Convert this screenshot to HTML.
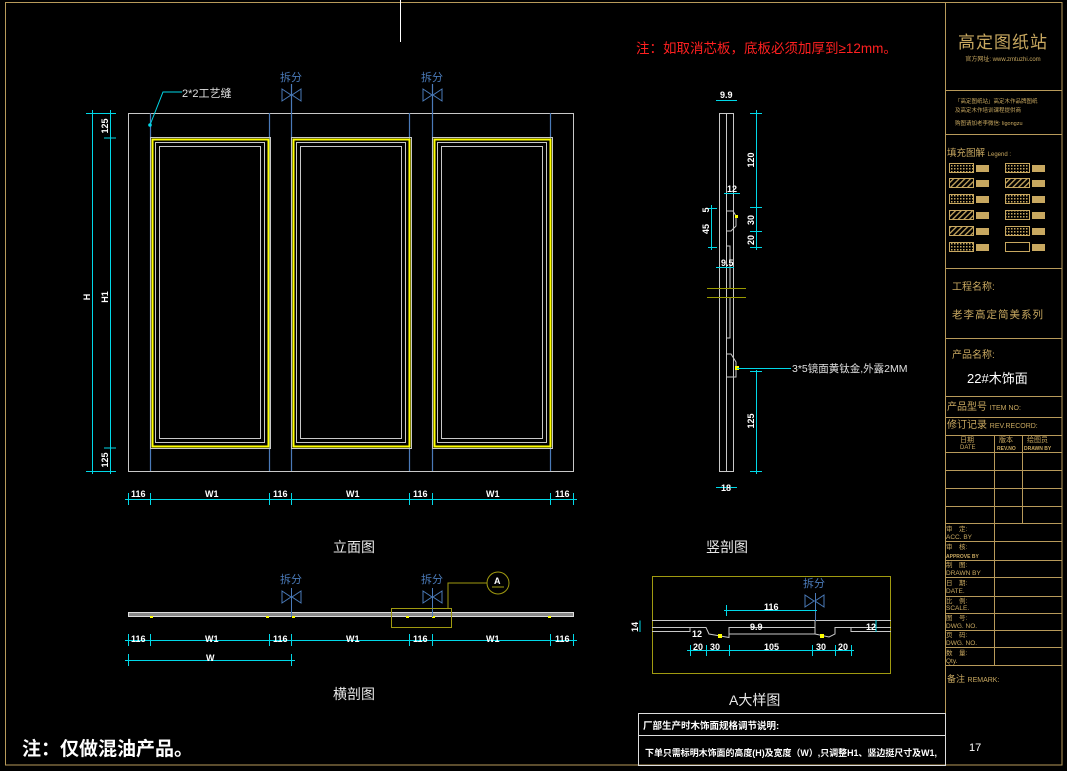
<!DOCTYPE html>
<html><head><meta charset="utf-8"><style>
html,body{margin:0;padding:0;background:#000;}
svg{display:block;}
text{font-family:"Liberation Sans","Noto Sans CJK SC",sans-serif;}
</style></head><body>
<svg width="1067" height="771" viewBox="0 0 1067 771" xmlns="http://www.w3.org/2000/svg">
<rect width="1067" height="771" fill="#000"/>
<rect x="5.5" y="2.5" width="1056.5" height="762.5" fill="none" stroke="#b89a5a" stroke-width="1"/>
<line x1="945.5" y1="2.5" x2="945.5" y2="765" stroke="#b89a5a"/>
<line x1="400.5" y1="0" x2="400.5" y2="42" stroke="#fff"/>
<text x="636" y="53" fill="#ff2020" font-size="13.5">注：如取消芯板，底板必须加厚到≥12mm。</text>

<g fill="none" stroke="#c8c8c8" stroke-width="1">
<rect x="128.5" y="113.5" width="445" height="358"/>
</g>
<g stroke="#4a7ab8" stroke-width="1.2">
<line x1="150.5" y1="113" x2="150.5" y2="471"/><line x1="269.5" y1="113" x2="269.5" y2="471"/>
<line x1="291.5" y1="84" x2="291.5" y2="471"/><line x1="409.5" y1="113" x2="409.5" y2="471"/>
<line x1="432.5" y1="84" x2="432.5" y2="471"/><line x1="550.5" y1="113" x2="550.5" y2="471"/>
</g>
<g id="pan">
<rect x="150.5" y="137.5" width="120" height="311" fill="none" stroke="#c8c8c8"/>
<rect x="152.5" y="139.5" width="116" height="307" fill="none" stroke="#ffff00" stroke-width="2"/>
<rect x="155.5" y="142.5" width="109" height="300" fill="none" stroke="#c8c8c8"/>
<rect x="159.5" y="146.5" width="101" height="292" fill="none" stroke="#c8c8c8"/>
</g>
<use href="#pan" x="141"/><use href="#pan" x="282"/>
<polyline points="150,125 163,92 182,92" fill="none" stroke="#00d8e8"/>
<circle cx="150" cy="125" r="1.8" fill="#00d8e8"/>
<text x="182" y="97" fill="#e0e0e0" font-size="11">2*2工艺缝</text>
<g id="spl" fill="none" stroke="#4a7ab8">
<text x="280" y="81" fill="#4a7ab8" stroke="none" font-size="11">拆分</text>
<polygon points="282,89 291,95 282,101"/><polygon points="301,89 292,95 301,101"/>
</g>
<use href="#spl" x="141"/>
<g stroke="#00d8e8" stroke-width="1">
<line x1="92.5" y1="110" x2="92.5" y2="474"/>
<line x1="110.5" y1="110" x2="110.5" y2="474"/>
<line x1="86" y1="113.5" x2="116" y2="113.5"/><line x1="104" y1="138" x2="116" y2="138"/>
<line x1="104" y1="448" x2="116" y2="448"/><line x1="86" y1="471.5" x2="116" y2="471.5"/>
<line x1="125" y1="499.5" x2="577" y2="499.5"/>
<line x1="128.5" y1="493" x2="128.5" y2="505"/>
<line x1="150.5" y1="493" x2="150.5" y2="505"/><line x1="269.5" y1="493" x2="269.5" y2="505"/>
<line x1="291.5" y1="493" x2="291.5" y2="505"/><line x1="409.5" y1="493" x2="409.5" y2="505"/>
<line x1="432.5" y1="493" x2="432.5" y2="505"/><line x1="550.5" y1="493" x2="550.5" y2="505"/>
<line x1="573.5" y1="493" x2="573.5" y2="505"/>
</g>
<g fill="#fff" font-size="9" font-weight="bold">
<text x="131" y="497">116</text><text x="205" y="497">W1</text><text x="273" y="497">116</text>
<text x="346" y="497">W1</text><text x="413" y="497">116</text><text x="486" y="497">W1</text><text x="555" y="497">116</text>
<text transform="translate(90,297) rotate(-90)" text-anchor="middle">H</text>
<text transform="translate(108,297) rotate(-90)" text-anchor="middle">H1</text>
<text transform="translate(108,126) rotate(-90)" text-anchor="middle">125</text>
<text transform="translate(108,460) rotate(-90)" text-anchor="middle">125</text>
</g>
<text x="333" y="552" fill="#e8e8e8" font-size="14">立面图</text>

<g fill="none" stroke="#c8c8c8">
<rect x="719.5" y="113.5" width="14" height="358"/>
<line x1="726.5" y1="113" x2="726.5" y2="471"/>
<polyline points="726,211 733,211 736,216 736,226 731,231 726,231"/>
<polyline points="726,246 730,246 730,288"/>
<polyline points="730,297 730,338 726,338"/>
<polyline points="726,354 731,354 736,362 736,377 733,377 726,377"/>
</g>
<g stroke="#9a9a00"><line x1="707" y1="288.5" x2="746" y2="288.5"/><line x1="707" y1="297.5" x2="746" y2="297.5"/></g>
<rect x="735" y="215" width="3" height="3" fill="#ffff00"/>
<rect x="735" y="366" width="4" height="4" fill="#ffff00"/>
<g stroke="#00d8e8">
<line x1="756.5" y1="110" x2="756.5" y2="250"/><line x1="756.5" y1="370" x2="756.5" y2="474"/>
<line x1="750" y1="113.5" x2="762" y2="113.5"/><line x1="750" y1="207.5" x2="762" y2="207.5"/>
<line x1="750" y1="231.5" x2="762" y2="231.5"/><line x1="750" y1="247.5" x2="762" y2="247.5"/>
<line x1="750" y1="371.5" x2="762" y2="371.5"/><line x1="750" y1="471.5" x2="762" y2="471.5"/>
<line x1="711.5" y1="205" x2="711.5" y2="250"/><line x1="708" y1="208.5" x2="717" y2="208.5"/><line x1="708" y1="247.5" x2="717" y2="247.5"/>
<line x1="716" y1="100.5" x2="737" y2="100.5"/><line x1="716" y1="267.5" x2="734" y2="267.5"/>
<line x1="724" y1="193.5" x2="740" y2="193.5"/><line x1="716" y1="487.5" x2="737" y2="487.5"/>
<line x1="737" y1="368.5" x2="791" y2="368.5"/>
</g>
<g fill="#fff" font-size="9" font-weight="bold">
<text x="720" y="98">9.9</text><text x="721" y="266">9.5</text><text x="727" y="192">12</text><text x="721" y="491">18</text>
<text transform="translate(754,160) rotate(-90)" text-anchor="middle">120</text>
<text transform="translate(754,220) rotate(-90)" text-anchor="middle">30</text>
<text transform="translate(754,240) rotate(-90)" text-anchor="middle">20</text>
<text transform="translate(754,421) rotate(-90)" text-anchor="middle">125</text>
<text transform="translate(709,229) rotate(-90)" text-anchor="middle">45</text>
<text transform="translate(709,210) rotate(-90)" text-anchor="middle">5</text>
</g>
<text x="792" y="372" fill="#e0e0e0" font-size="10.5">3*5镜面黄钛金,外露2MM</text>
<text x="706" y="552" fill="#e8e8e8" font-size="14">竖剖图</text>

<rect x="128.5" y="612.5" width="445" height="4" fill="#888" stroke="#ddd"/>
<g fill="#ffff00"><rect x="150" y="616" width="3" height="2"/><rect x="266" y="616" width="3" height="2"/><rect x="292" y="616" width="3" height="2"/><rect x="406" y="616" width="3" height="2"/><rect x="432" y="616" width="3" height="2"/><rect x="548" y="616" width="3" height="2"/></g>
<g stroke="#4a7ab8"><line x1="291.5" y1="588" x2="291.5" y2="617"/><line x1="432.5" y1="588" x2="432.5" y2="617"/></g>
<use href="#spl" x="0" y="502"/><use href="#spl" x="141" y="502"/>
<g fill="none" stroke="#a09a10">
<rect x="391.5" y="608.5" width="60" height="19"/>
<polyline points="448,608 448,583 487,583"/>
<circle cx="498" cy="583" r="11"/>
<line x1="492" y1="587" x2="504" y2="587"/>
</g>
<text x="494" y="584" fill="#fff" font-size="9" font-weight="bold">A</text>
<g stroke="#00d8e8">
<line x1="125" y1="640.5" x2="577" y2="640.5"/>
<line x1="128.5" y1="634" x2="128.5" y2="646"/><line x1="150.5" y1="634" x2="150.5" y2="646"/>
<line x1="269.5" y1="634" x2="269.5" y2="646"/><line x1="291.5" y1="634" x2="291.5" y2="646"/>
<line x1="409.5" y1="634" x2="409.5" y2="646"/><line x1="432.5" y1="634" x2="432.5" y2="646"/>
<line x1="550.5" y1="634" x2="550.5" y2="646"/><line x1="573.5" y1="634" x2="573.5" y2="646"/>
<line x1="125" y1="660.5" x2="295" y2="660.5"/>
<line x1="128.5" y1="654" x2="128.5" y2="666"/><line x1="291.5" y1="654" x2="291.5" y2="666"/>
</g>
<g fill="#fff" font-size="9" font-weight="bold">
<text x="131" y="642">116</text><text x="205" y="642">W1</text><text x="273" y="642">116</text>
<text x="346" y="642">W1</text><text x="413" y="642">116</text><text x="486" y="642">W1</text><text x="555" y="642">116</text>
<text x="206" y="661">W</text>
</g>
<text x="333" y="699" fill="#e8e8e8" font-size="14">横剖图</text>

<rect x="652.5" y="576.5" width="238" height="97" fill="none" stroke="#a09a10"/>
<g fill="none" stroke="#c8c8c8">
<line x1="652" y1="620.5" x2="891" y2="620.5"/>
<polyline points="652,627.5 690,627.5 690,631.5 652,631.5"/>
<polyline points="690,627.5 706,627.5 709,634 729,637.5 729,627.5 815,627.5"/>
<polyline points="729,627.5 729,634 815,634 815,620"/>
<polyline points="815,634 829,637 835,634 835,627.5 851,627.5 851,631.5 891,631.5"/>
<line x1="851" y1="627.5" x2="891" y2="627.5"/>
</g>
<g fill="#ffff00"><rect x="718" y="634" width="4" height="4"/><rect x="820" y="634" width="4" height="4"/></g>
<g stroke="#4a7ab8"><line x1="815.5" y1="593" x2="815.5" y2="621"/></g>
<use href="#spl" x="523" y="506"/>
<g stroke="#00d8e8">
<line x1="724" y1="610.5" x2="817" y2="610.5"/><line x1="726.5" y1="605" x2="726.5" y2="616"/>
<line x1="687" y1="650.5" x2="854" y2="650.5"/>
<line x1="690.5" y1="645" x2="690.5" y2="656"/><line x1="706.5" y1="645" x2="706.5" y2="656"/>
<line x1="729.5" y1="645" x2="729.5" y2="656"/><line x1="812.5" y1="645" x2="812.5" y2="656"/>
<line x1="835.5" y1="645" x2="835.5" y2="656"/><line x1="851.5" y1="645" x2="851.5" y2="656"/>
<line x1="640" y1="620.5" x2="640" y2="632"/><line x1="876" y1="620" x2="876" y2="632"/>
</g>
<g fill="#fff" font-size="9" font-weight="bold">
<text x="764" y="610">116</text><text x="693" y="650">20</text><text x="710" y="650">30</text>
<text x="764" y="650">105</text><text x="816" y="650">30</text><text x="838" y="650">20</text>
<text x="750" y="630">9.9</text><text x="866" y="630">12</text><text x="692" y="637">12</text>
<text transform="translate(638,627) rotate(-90)" text-anchor="middle">14</text>
</g>
<text x="729" y="705" fill="#e8e8e8" font-size="14">A大样图</text>

<rect x="638.5" y="713.5" width="307" height="52" fill="none" stroke="#ddd"/>
<line x1="638.5" y1="735.5" x2="945" y2="735.5" stroke="#ddd"/>
<text x="643" y="729" fill="#fff" font-size="9.5" font-weight="bold">厂部生产时木饰面规格调节说明:</text>
<text x="645" y="756" fill="#fff" font-size="9" font-weight="bold" textLength="292" lengthAdjust="spacingAndGlyphs">下单只需标明木饰面的高度(H)及宽度（W）,只调整H1、竖边挺尺寸及W1,</text>
<text x="22" y="755" fill="#fff" font-size="19" font-weight="bold">注：仅做混油产品。</text>

<g stroke="#b89a5a" fill="none">
<line x1="945" y1="90.5" x2="1062" y2="90.5"/><line x1="945" y1="134.5" x2="1062" y2="134.5"/>
<line x1="945" y1="268.5" x2="1062" y2="268.5"/><line x1="945" y1="338.5" x2="1062" y2="338.5"/>
<line x1="945" y1="396.5" x2="1062" y2="396.5"/><line x1="945" y1="417.5" x2="1062" y2="417.5"/>
<line x1="945" y1="435.5" x2="1062" y2="435.5"/><line x1="945" y1="452.5" x2="1062" y2="452.5"/>
<line x1="945" y1="470.5" x2="1062" y2="470.5"/><line x1="945" y1="488.5" x2="1062" y2="488.5"/>
<line x1="945" y1="506.5" x2="1062" y2="506.5"/><line x1="945" y1="523.5" x2="1062" y2="523.5"/>
<line x1="945" y1="541.5" x2="1062" y2="541.5"/><line x1="945" y1="560.5" x2="1062" y2="560.5"/>
<line x1="945" y1="577.5" x2="1062" y2="577.5"/><line x1="945" y1="596.5" x2="1062" y2="596.5"/>
<line x1="945" y1="613.5" x2="1062" y2="613.5"/><line x1="945" y1="630.5" x2="1062" y2="630.5"/>
<line x1="945" y1="647.5" x2="1062" y2="647.5"/><line x1="945" y1="665.5" x2="1062" y2="665.5"/>
<line x1="994.5" y1="435" x2="994.5" y2="665"/><line x1="1022.5" y1="435" x2="1022.5" y2="523"/>
</g>
<g fill="#c8a860">
<text x="1003" y="48" font-size="17" text-anchor="middle" letter-spacing="1">高定图纸站</text>
<text x="1003" y="61" font-size="6" text-anchor="middle">官方网址: www.zmtuzhi.com</text>
<text x="955" y="103" font-size="5.5">「高定图纸站」高定木作品牌图纸</text>
<text x="955" y="112" font-size="5.5">及高定木作培训课程提供商</text>
<text x="955" y="125" font-size="5.5">购图请加老李微信: ligongzu</text>
<text x="947" y="156" font-size="9.5">填充图解 <tspan font-size="6">Legend :</tspan></text>
<text x="952" y="290" font-size="10">工程名称:</text>
<text x="952" y="318" font-size="10.5" letter-spacing="1">老李高定简美系列</text>
<text x="952" y="358" font-size="10">产品名称:</text>
<text x="947" y="410" font-size="10">产品型号 <tspan font-size="7">ITEM NO:</tspan></text>
<text x="947" y="428" font-size="10">修订记录 <tspan font-size="7">REV.RECORD:</tspan></text>
<text x="960" y="442" font-size="7">日期</text><text x="960" y="449" font-size="6">DATE</text>
<text x="999" y="442" font-size="7">版本</text><text x="997" y="450" font-size="5" font-weight="bold">REV.NO</text>
<text x="1027" y="442" font-size="7">绘图员</text><text x="1024" y="450" font-size="5" font-weight="bold">DRAWN BY</text>
<g font-size="6.5">
<text x="946" y="531">审　定:</text><text x="946" y="539">ACC. BY</text>
<text x="946" y="549">审　核:</text><text x="946" y="558" font-size="5" font-weight="bold">APPROVE BY</text>
<text x="946" y="567">制　图:</text><text x="946" y="575">DRAWN BY</text>
<text x="946" y="585">日　期:</text><text x="946" y="593">DATE.</text>
<text x="946" y="603">比　例:</text><text x="946" y="610">SCALE.</text>
<text x="946" y="620">图　号:</text><text x="946" y="628">DWG. NO.</text>
<text x="946" y="637">页　码:</text><text x="946" y="645">DWG. NO.</text>
<text x="946" y="655">数　量:</text><text x="946" y="663">Qty.</text>
</g>
<text x="947" y="682" font-size="9">备注 <tspan font-size="7">REMARK:</tspan></text>
</g>
<text x="967" y="383" fill="#fff" font-size="13">22#木饰面</text>
<text x="969" y="751" fill="#fff" font-size="11">17</text>
<defs>
<pattern id="hx" width="3" height="3" patternUnits="userSpaceOnUse"><rect width="3" height="3" fill="#000"/><rect width="1.5" height="1.5" fill="#c8a860"/></pattern>
<pattern id="hd" width="4" height="4" patternUnits="userSpaceOnUse" patternTransform="rotate(45)"><rect width="4" height="4" fill="#000"/><rect width="1.3" height="4" fill="#c8a860"/></pattern>
</defs>
<g stroke="#c8a860">
<rect x="949.5" y="163.5" width="24" height="9" fill="url(#hx)"/><rect x="1005.5" y="163.5" width="24" height="9" fill="url(#hx)"/>
<rect x="949.5" y="178.5" width="24" height="9" fill="url(#hd)"/><rect x="1005.5" y="178.5" width="24" height="9" fill="url(#hd)"/>
<rect x="949.5" y="194.5" width="24" height="9" fill="url(#hx)"/><rect x="1005.5" y="194.5" width="24" height="9" fill="url(#hx)"/>
<rect x="949.5" y="210.5" width="24" height="9" fill="url(#hd)"/><rect x="1005.5" y="210.5" width="24" height="9" fill="url(#hx)"/>
<rect x="949.5" y="226.5" width="24" height="9" fill="url(#hd)"/><rect x="1005.5" y="226.5" width="24" height="9" fill="url(#hx)"/>
<rect x="949.5" y="242.5" width="24" height="9" fill="url(#hx)"/><rect x="1005.5" y="242.5" width="24" height="9" fill="#000"/>
</g>
<g fill="#c8a860">
<rect x="976" y="165" width="13" height="7"/><rect x="1032" y="165" width="13" height="7"/>
<rect x="976" y="180" width="13" height="7"/><rect x="1032" y="180" width="13" height="7"/>
<rect x="976" y="196" width="13" height="7"/><rect x="1032" y="196" width="13" height="7"/>
<rect x="976" y="212" width="13" height="7"/><rect x="1032" y="212" width="13" height="7"/>
<rect x="976" y="228" width="13" height="7"/><rect x="1032" y="228" width="13" height="7"/>
<rect x="976" y="244" width="13" height="7"/><rect x="1032" y="244" width="13" height="7"/>
</g>
</svg>
</body></html>
